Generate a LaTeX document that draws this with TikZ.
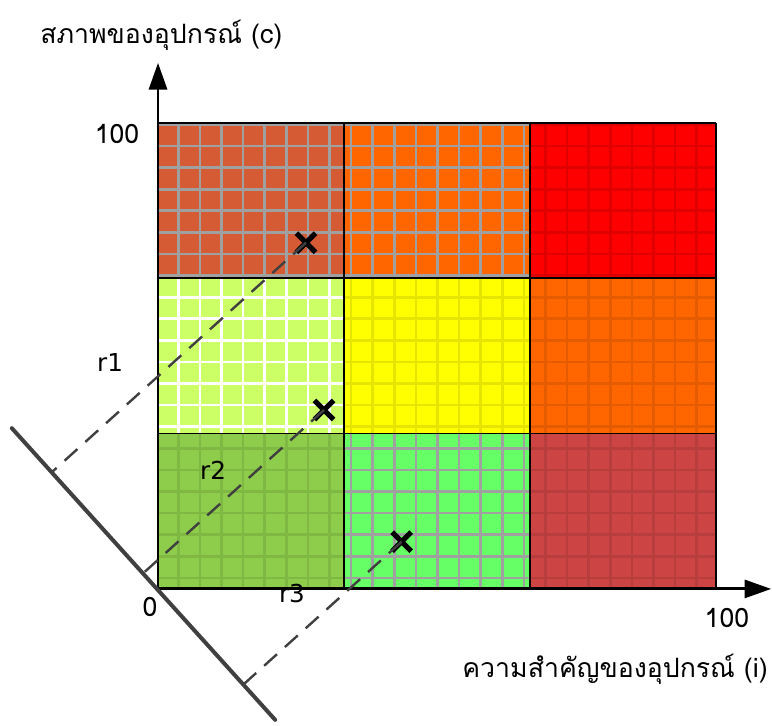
\documentclass[tikz,border=0pt]{standalone}
\usepackage{fontspec}
\usepackage{tikz}
\usetikzlibrary{arrows.meta,calc,shapes.misc}
\newfontfamily\thaifont[Script=Thai]{Loma}
\newfontfamily\rfont{DejaVu Sans}
\definecolor{rkbrick}{HTML}{D55B34}
\definecolor{rkorange}{HTML}{FF6600}
\definecolor{rkred}{HTML}{FF0000}
\definecolor{rklime}{HTML}{CCFF66}
\definecolor{rkyellow}{HTML}{FFFF00}
\definecolor{rkgreen}{HTML}{8DCD4B}
\definecolor{rkmint}{HTML}{66FF66}
\definecolor{rkrose}{HTML}{CC4444}
\definecolor{rkgrid}{HTML}{A0A0A0}
\definecolor{rkink}{HTML}{404040}

\begin{document}
\begin{tikzpicture}[x=4.185pt,y=3.495pt,
  axis/.style={draw=black,line width=2.2pt,-{Triangle[length=20pt,width=13.5pt]}},
  cellline/.style={draw=black,line width=1.2pt},
  gridline/.style={line width=2pt},
  refline/.style={draw=rkink,line width=3pt},
  proj/.style={draw=rkink,line width=1.8pt,dash pattern=on 13pt off 8pt},
  point/.style={cross out,draw=black,line width=3.8pt,minimum size=10.5pt,inner sep=0pt},
  thai/.style={font=\thaifont\fontsize{20}{24}\selectfont,inner sep=0pt},
  rlabel/.style={font=\rfont\fontsize{18.5}{22}\selectfont,inner sep=0pt},
]
\useasboundingbox (-28.32,-29.40) rectangle (110.04,126.39);

% the nine cells, each with its own fill and grid colour
\foreach \c/\r/\fc/\lc in {0/2/rkbrick/rkgrid, 1/2/rkorange/rkgrid, 2/2/rkred/rkred!88!black,
    0/1/rklime/white, 1/1/rkyellow/rkyellow!90!black, 2/1/rkorange/rkorange!90!black,
    0/0/rkgreen/rkgreen!90!black, 1/0/rkmint/rkgrid, 2/0/rkrose/rkrose!90!black}{
  \begin{scope}
    \clip (\c*33.333,\r*33.333) rectangle ++(33.333,33.333);
    \fill[\fc] (\c*33.333,\r*33.333) rectangle ++(33.333,33.333);
    \foreach \gx in {0,...,25}
      \draw[gridline,\lc] ({3.64+3.871*\gx},0) -- ++(0,100);
    \foreach \gy in {0,...,21}
      \draw[gridline,\lc] (0,{2.36+4.635*\gy}) -- ++(100,0);
  \end{scope}
}
\foreach \k in {1,2,3} {
  \draw[cellline] ({33.333*\k},0) -- ({33.333*\k},100);
  \draw[cellline] (0,{33.333*\k}) -- (100,{33.333*\k});
}

% axes
\coordinate (o) at (0,0);
\draw[axis] (o) -- (0,112.9);
\draw[axis] (o) -- (109.9,0);

% projection line and the three points
\coordinate (la) at (-26.2,34.5);
\coordinate (lb) at (21.0,-28.1);
\draw[refline,line cap=round] (la) -- (lb);

\node[point] (x1) at (26.52,74.3) {};
\node[point] (x2) at (29.75,38.4) {};
\node[point] (x3) at (43.67,10.15) {};

\draw[proj] (x1.center) -- ($(la)!(x1.center)!(lb)$);
\draw[proj] (x2.center) -- ($(la)!(x2.center)!(lb)$);
\draw[proj] (x3.center) -- ($(la)!(x3.center)!(lb)$);

% labels
\node[thai,anchor=west] (ytitle) at (-21.15,118.9) {สภาพของอุปกรณ์ (c)};
\node[thai] (ymax) at (-7.35,97.6) {100};
\node[thai] (zero) at (-1.43,-3.86) {0};
\node[thai] (xmax) at (101.97,-6.22) {100};
\node[thai,anchor=east] (xtitle) at (109.3,-17.17) {ความสำคัญของอุปกรณ์ (i)};
\node[rlabel] (r1) at (-8.6,48.7) {r1};
\node[rlabel] (r2) at (9.86,25.5) {r2};
\node[rlabel] (r3) at (24.0,-1.07) {r3};

\end{tikzpicture}
\end{document}
